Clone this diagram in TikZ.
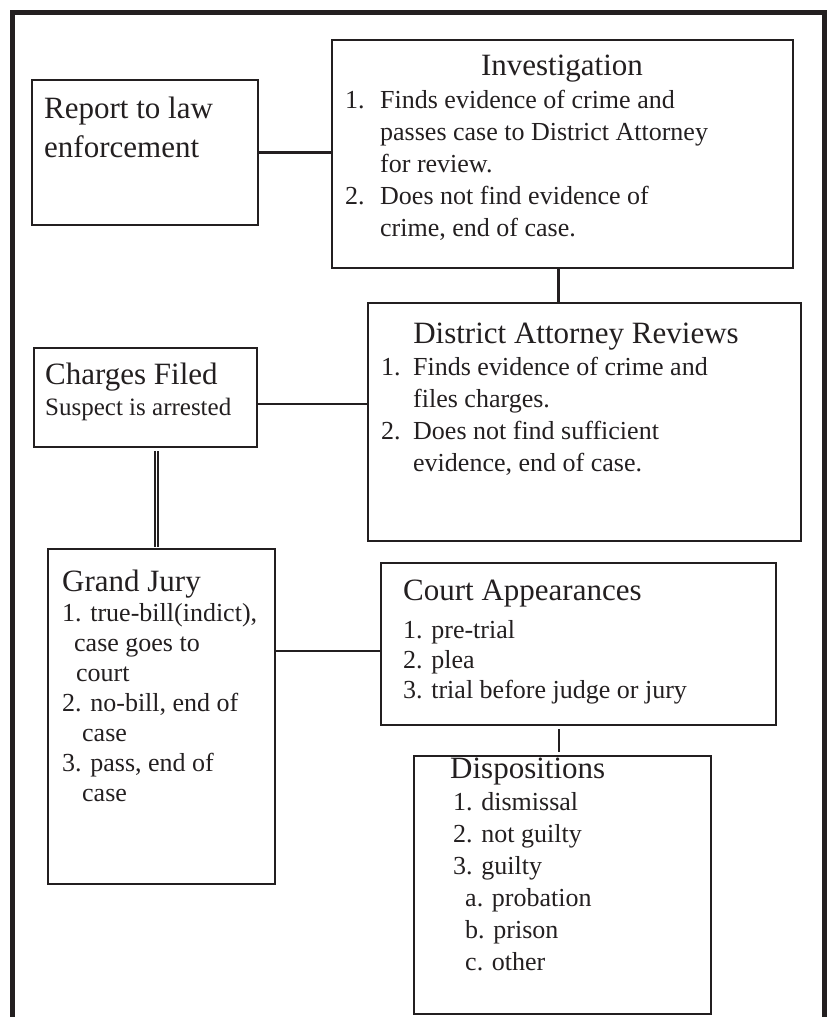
\documentclass[tikz,border=0pt]{standalone}
\usepackage{fontspec}
\setmainfont{Liberation Serif}
\definecolor{ink}{HTML}{231F20}
\begin{document}
\begin{tikzpicture}[x=1pt,y=-1pt,
  box/.style={draw=ink, line width=2.6pt, inner sep=0pt, outer sep=0pt, anchor=north west},
  ttl/.style={font=\fontsize{31}{39}\selectfont, text=ink, inner sep=0pt, align=left},
  itm/.style={font=\fontsize{26}{32}\selectfont, text=ink, inner sep=0pt, align=left, anchor=base west},
  itmb/.style={itm, font=\fontsize{26}{30}\selectfont},
  link/.style={draw=ink, line width=2.4pt},
  frame/.style={draw=ink, line width=5pt}]
\useasboundingbox (0,0) rectangle (827,1017);
% outer frame
\draw[frame] (12.5,1017) -- (12.5,12.5) -- (824,12.5) -- (824,1017);
% boxes
\node[box, minimum width=226pt, minimum height=145pt] (rep) at (32,80) {};
\node[box, minimum width=461pt, minimum height=228pt] (inv) at (332,40) {};
\node[box, minimum width=433pt, minimum height=238pt] (da) at (368,303) {};
\node[box, minimum width=223pt, minimum height=99pt] (chg) at (34,348) {};
\node[box, minimum width=227pt, minimum height=335pt] (gj) at (48,549) {};
\node[box, minimum width=395pt, minimum height=162pt] (ct) at (381,563) {};
\node[box, minimum width=297pt, minimum height=258pt] (dsp) at (414,756) {};
% texts (multi-line nodes are anchored at the baseline of their last line)
\node[ttl, anchor=base west] (repT) at (44,157) {Report to law\\enforcement};
\node[ttl, anchor=base] (invT) at (562,75) {Investigation};
\node[itm] (invI) at (345,236) {\makebox[35pt][l]{1.}Finds evidence of crime and\\
\hspace*{35pt}passes case to District Attorney\\
\hspace*{35pt}for review.\\
\makebox[35pt][l]{2.}Does not find evidence of\\
\hspace*{35pt}crime, end of case.};
\node[ttl, anchor=base] (daT) at (576,343) {District Attorney Reviews};
\node[itm] (daI) at (381,471) {\makebox[32pt][l]{1.}Finds evidence of crime and\\
\hspace*{32pt}files charges.\\
\makebox[32pt][l]{2.}Does not find sufficient\\
\hspace*{32pt}evidence, end of case.};
\node[ttl, anchor=base west] (chgT) at (45,384) {Charges Filed};
\node[itm, font=\fontsize{25}{30}\selectfont] (chgS) at (45,415) {Suspect is arrested};
\node[ttl, anchor=base west] (gjT) at (62,591) {Grand Jury};
\node[itmb] (gjI) at (62,801) {1. true-bill(indict),\\
\hspace*{12pt}case goes to\\
\hspace*{14pt}court\\
2. no-bill, end of\\
\hspace*{20pt}case\\
3. pass, end of\\
\hspace*{20pt}case};
\node[ttl, anchor=base west] (ctT) at (403,600) {Court Appearances};
\node[itmb] (ctI) at (403,698) {1. pre-trial\\2. plea\\3. trial before judge or jury};
\node[ttl, anchor=base west] (dspT) at (450,778) {Dispositions};
\node[itm] (dspI) at (453,970) {1. dismissal\\2. not guilty\\3. guilty\\
\hspace*{12pt}a. probation\\\hspace*{12pt}b. prison\\\hspace*{12pt}c. other};
% connectors
\draw[link] (rep.east) -- (rep.east -| inv.west);
\draw[link] ([xshift=-4pt]inv.south) -- ([xshift=-4pt]inv.south |- da.north);
\draw[link] ([yshift=-6.5pt]chg.east) -- ([yshift=-6.5pt]chg.east -| da.west);
\draw[draw=ink, line width=1.8pt, double=white, double distance=1.2pt, shorten <=4pt, shorten >=2pt]
  ([xshift=11pt]chg.south) -- ([xshift=11pt]chg.south |- gj.north);
\draw[link] ([yshift=-7pt]ct.west -| gj.east) -- ([yshift=-7pt]ct.west);
\draw[link, shorten <=4pt, shorten >=4pt] ([xshift=-3.5pt]dsp.north) -- ([xshift=-3.5pt]dsp.north |- ct.south);
\end{tikzpicture}
\end{document}
